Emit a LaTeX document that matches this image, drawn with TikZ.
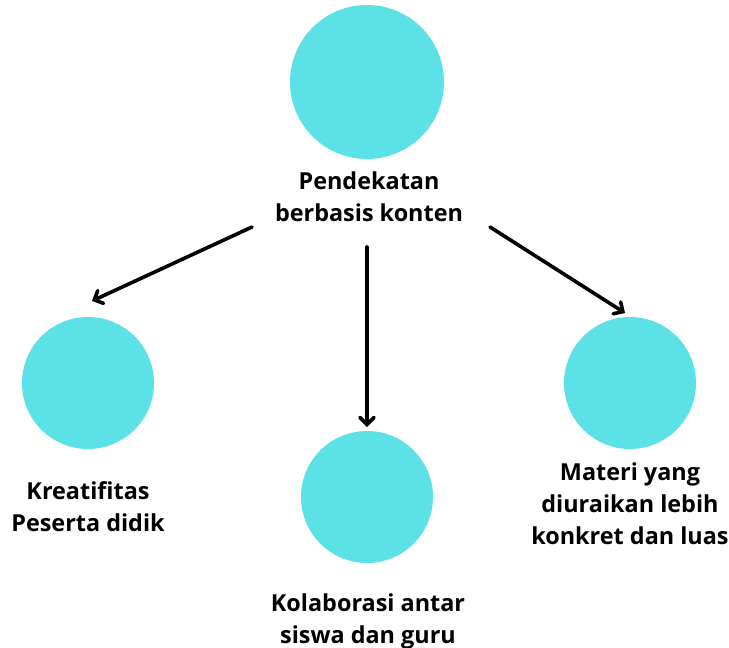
\documentclass[tikz,border=0pt]{standalone}
\usepackage{fontspec}
\setmainfont{Open Sans}
\usetikzlibrary{arrows.meta}
\definecolor{cyanfill}{HTML}{5CE1E6}
\tikzset{
  blob/.style={circle, fill=cyanfill, draw=none, inner sep=0pt},
  lbl/.style={align=center, font=\fontsize{23.4}{32}\selectfont\bfseries, text=black, inner sep=0pt},
  conn/.style={line width=3.6pt, line cap=round, -{Straight Barb[length=7pt,width=14pt,line cap=round]}}
}
\begin{document}
\begin{tikzpicture}[x=1pt,y=-1pt]
\useasboundingbox (0,0) rectangle (729,648);
\node[blob, minimum size=154pt] (ctop) at (367,82) {};
\node[blob, minimum size=132pt] (cleft) at (88,383) {};
\node[blob, minimum size=132pt] (cmid) at (367,497) {};
\node[blob, minimum size=132pt] (cright) at (630,383) {};
\node[lbl] (ttop) at (369,197) {Pendekatan\\berbasis konten};
\node[lbl] (tleft) at (88,507) {Kreatifitas\\Peserta didik};
\node[lbl] (tmid) at (368,621) {Kolaborasi antar\\siswa dan guru};
\node[lbl] (tright) at (630,504) {Materi yang\\diuraikan lebih\\konkret dan luas};
\coordinate (s1) at (252,227);
\coordinate (e1) at (92,301);
\coordinate (s2) at (367,247);
\coordinate (e2) at (367,427);
\coordinate (s3) at (490,227);
\coordinate (e3) at (625,313);
\draw[conn] (s1) -- (e1);
\draw[conn] (s2) -- (e2);
\draw[conn] (s3) -- (e3);
\end{tikzpicture}
\end{document}
